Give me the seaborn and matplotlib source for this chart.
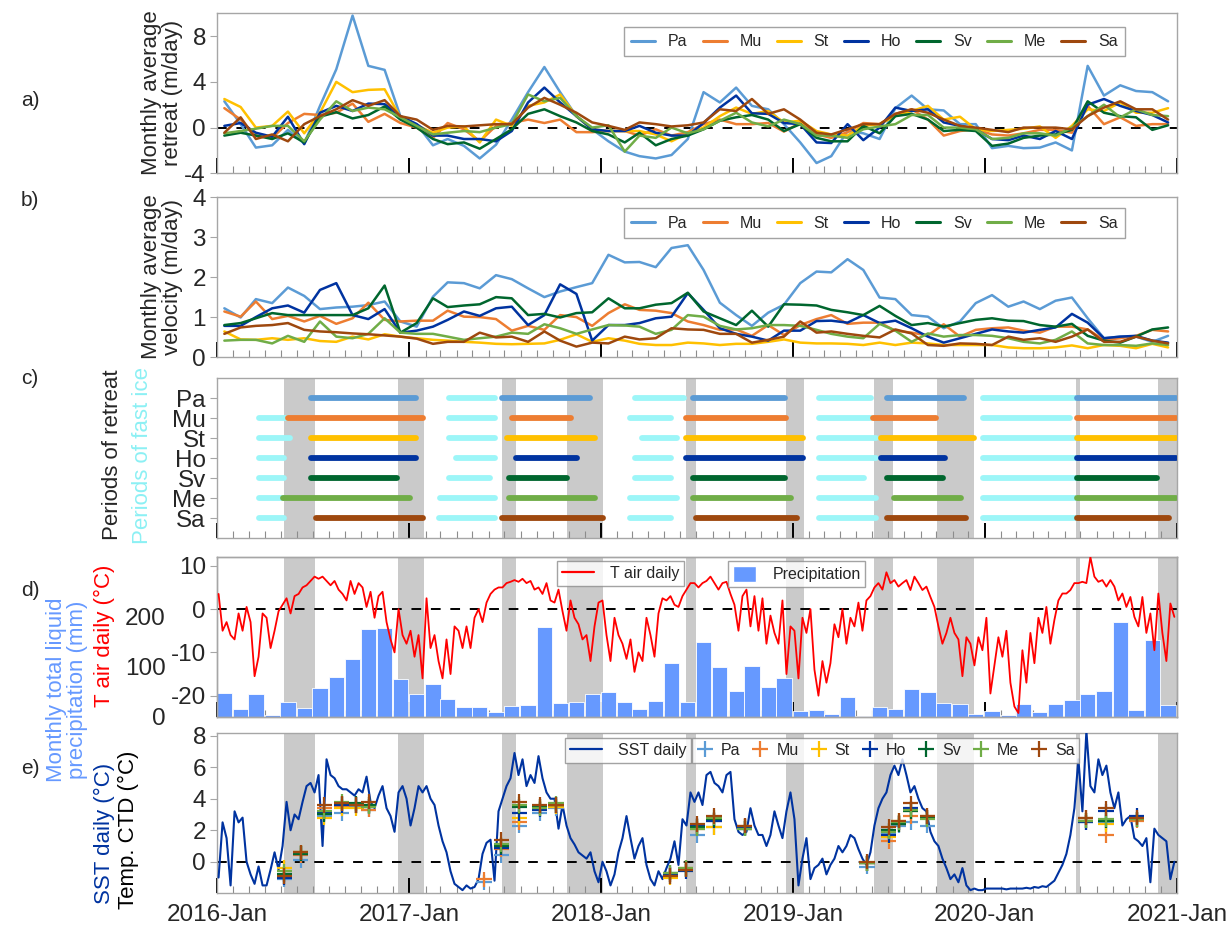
import numpy as np
import pandas as pd
import matplotlib
matplotlib.use('Agg')
import matplotlib.pyplot as plt
import matplotlib.dates as mdates
from matplotlib.lines import Line2D
from matplotlib.patches import Patch
import seaborn as sns

sns.set_theme(style='ticks')
plt.rcParams['font.family'] = ['Liberation Sans', 'DejaVu Sans']
plt.rcParams['axes.unicode_minus'] = False

# ---------------- data ----------------
glaciers = ['Pa', 'Mu', 'St', 'Ho', 'Sv', 'Me', 'Sa']
glacier_colors = ['#5B9BD5', '#ED7D31', '#FFC000', '#0033A0', '#00662E', '#70AD47', '#9E480E']
fast_ice_color = '#9CF6F8'

# monthly average retreat (m/day), Jan 2016 .. Dec 2020
ret_Pa = [2.3,0.3,-1.75,-1.55,-0.2,-1.4,1.9,5.1,9.8,5.4,5.05,1.0,0.3,-1.55,-1.0,-1.6,-2.7,-1.5,0.7,3.1,5.3,3.1,1.0,-0.15,-1.2,-2.1,-2.5,-2.7,-2.4,-1.0,
          3.1,2.2,3.5,1.9,1.6,0.3,-1.3,-3.1,-2.5,-0.3,-0.5,-1.0,1.7,2.8,1.6,1.5,0.3,0.3,-1.8,-1.6,-1.8,-1.75,-1.3,-2.0,5.4,2.8,3.7,3.2,3.1,2.3]
ret_Mu = [1.7,0.7,-0.7,-0.9,0.4,1.2,1.1,1.3,2.1,0.5,1.2,0.4,0,-0.9,0.4,-0.15,-1.2,0.15,0.4,0.7,0.4,0.7,-0.4,-0.4,-0.3,-0.3,-0.7,-0.15,-0.7,-0.4,
          0.3,0.7,0.3,0.3,0.4,-0.35,0.4,-0.6,-0.9,-0.4,0.4,0.3,1.2,1.6,0.7,-0.7,-0.3,-0.15,-0.6,-0.7,-0.5,-0.2,-0.2,-0.45,1.9,0.3,0.9,0.15,0.3,0.3]
ret_St = [2.5,1.8,0,0.15,1.4,-0.5,1.3,4.0,3.1,3.3,3.35,0.9,0.2,-0.45,0,0.1,-1.3,0.7,0.15,1.9,2.2,2.9,1.0,-0.15,-0.3,-0.3,-0.3,-0.6,-1.2,-0.5,
          0,1.0,1.75,1.2,1.45,0.45,0.6,-0.3,-0.6,-0.7,0.15,0.3,1.0,1.45,1.9,0.7,0.95,-0.15,-0.3,-0.2,-0.1,0.1,-0.9,0.15,1.6,1.45,2.2,1.3,1.3,1.7]
ret_Ho = [0.15,0.4,-0.45,-0.8,0.95,-1.45,1.3,1.9,1.45,2.1,2.05,1.0,0.3,-0.7,-0.7,-1.0,-1.0,-1.2,-0.3,2.2,3.5,2.2,1.0,-0.15,-0.3,-0.3,0.15,-0.45,-0.7,-0.7,
          0.4,1.75,2.8,1.25,1.2,0.4,0.3,-1.3,-1.35,0.3,-1.1,0,1.75,1.45,1.6,0.45,0.15,-0.15,-1.0,-1.1,-0.7,-1.0,-0.3,-1.0,2.0,2.5,1.9,1.45,1.1,0.45]
ret_Sv = [-0.7,-0.45,-0.7,-1.0,-0.5,-1.3,0.95,1.35,0.8,1.1,1.85,0.7,0,-1.0,-1.45,-1.3,-1.85,-1.0,-0.15,1.2,1.6,1.0,0.45,-0.3,-0.6,-1.3,-0.45,-1.55,-1.0,-0.7,
          -0.15,0.6,0.9,1.1,0.7,-0.3,0.3,-0.9,-1.2,-1.2,0.15,-0.5,1.0,1.2,0.7,-0.3,-0.2,-0.3,-1.6,-1.4,-0.9,-0.7,-0.6,-0.2,2.3,1.3,1.0,0.9,-0.2,0.2]
ret_Me = [-0.5,-0.3,-0.1,0.15,0.15,-1.2,0.7,2.3,1.45,1.75,1.6,0.9,0.15,-0.6,-0.45,-0.3,-0.4,0,0.3,2.9,2.3,2.6,1.0,0,0.2,-2.1,-0.7,-0.9,0,-0.5,
          -0.15,0.6,1.3,0.45,0.1,0.7,0.3,-0.7,-0.7,-0.9,-0.15,0.1,0.3,1.1,1.1,0,0,-0.15,-1.0,-0.9,-0.5,-0.5,-0.7,0,1.0,2.0,0.9,1.6,1.1,1.0]
ret_Sa = [-0.45,0.9,-1.0,-0.6,-1.2,0.3,1.0,1.6,2.4,1.9,2.4,1.0,0.7,-0.2,0.15,0.1,0.2,0.3,0.3,1.75,2.6,2.0,1.3,0.45,0.15,-0.2,0.45,0.3,0.1,0.2,
          0.45,1.6,1.45,2.5,1.2,1.6,0.7,-0.45,-0.6,-0.15,0.3,0.3,1.2,1.6,1.3,0.7,0.15,0,-0.2,-0.4,0,0,0,-0.15,1.0,1.75,2.3,1.6,1.6,0.7]

# monthly average velocity (m/day)
vel_Pa = [1.22,0.99,1.45,1.35,1.74,1.53,1.2,1.24,1.26,1.3,1.39,0.89,0.76,1.51,1.87,1.85,1.72,2.05,1.95,1.72,1.5,1.64,1.75,1.85,2.56,2.37,2.38,2.25,2.73,2.8,
          2.18,1.36,1.05,0.78,1.11,1.31,1.85,2.14,2.12,2.45,2.18,1.49,1.45,1.05,1.01,0.72,0.89,1.35,1.55,1.26,1.39,1.2,1.41,1.49,0.97,0.47,0.51,0.51,0.38,0.53]
vel_Mu = [1.14,1.01,1.39,0.95,1.03,0.89,1.03,0.83,0.97,1.36,0.93,0.89,0.91,0.91,1.16,1.01,1.0,0.95,0.66,0.78,0.68,1.05,1.0,0.78,1.1,1.32,1.18,1.16,1.1,0.89,
          0.8,0.68,0.69,0.53,0.8,0.55,0.8,0.95,1.05,0.83,0.86,0.86,0.66,0.61,0.54,0.82,0.51,0.68,0.72,0.74,0.66,0.61,0.76,0.76,0.69,0.43,0.47,0.53,0.68,0.64]
vel_St = [0.64,0.44,0.43,0.47,0.43,0.47,0.4,0.38,0.51,0.44,0.57,0.51,0.47,0.43,0.41,0.38,0.36,0.33,0.32,0.33,0.34,0.43,0.57,0.38,0.47,0.41,0.33,0.3,0.3,0.36,
          0.34,0.3,0.33,0.33,0.38,0.44,0.36,0.34,0.34,0.33,0.3,0.36,0.3,0.36,0.34,0.3,0.3,0.3,0.3,0.24,0.22,0.22,0.24,0.29,0.22,0.3,0.28,0.22,0.33,0.24]
vel_Ho = [0.78,0.78,1.0,1.22,1.29,1.11,1.68,1.85,1.05,0.95,1.2,0.61,0.66,0.76,0.93,1.14,1.03,1.22,1.26,0.8,1.05,1.82,1.58,0.41,0.8,0.8,0.85,0.97,1.01,1.6,
          1.18,0.72,0.58,0.51,0.41,0.66,0.66,0.9,0.91,0.86,1.05,0.85,0.91,0.72,0.51,0.36,0.47,0.58,0.69,0.64,0.61,0.68,0.74,1.08,0.86,0.47,0.51,0.53,0.41,0.36]
vel_Sv = [0.8,0.85,0.97,1.1,1.05,1.05,1.05,1.05,1.05,1.22,1.79,0.61,0.85,1.47,1.25,1.29,1.32,1.5,1.47,1.05,1.08,0.99,1.1,1.12,1.47,1.22,1.22,1.31,1.35,1.61,
          1.14,0.97,0.8,1.16,0.76,1.32,1.31,1.29,1.18,1.12,1.05,1.28,1.03,0.8,0.85,0.76,0.85,0.93,0.97,0.91,0.9,0.8,0.76,0.83,0.53,0.41,0.36,0.51,0.69,0.74]
vel_Me = [0.41,0.43,0.43,0.34,0.53,0.38,0.89,0.51,0.47,0.58,0.97,0.61,0.58,0.58,0.51,0.43,0.47,0.51,0.61,0.58,0.82,0.72,0.58,0.69,0.8,0.79,0.76,0.58,0.68,1.05,
          1.01,0.78,0.69,0.72,0.8,0.8,0.78,0.68,0.58,0.51,0.47,0.83,0.66,0.38,0.59,0.51,0.55,0.55,0.53,0.47,0.38,0.34,0.43,0.64,0.34,0.3,0.3,0.28,0.34,0.3]
vel_Sa = [0.58,0.74,0.78,0.8,0.85,0.68,0.64,0.62,0.59,0.57,0.54,0.51,0.46,0.33,0.38,0.38,0.61,0.49,0.51,0.38,0.64,0.41,0.26,0.36,0.34,0.51,0.44,0.47,0.72,0.69,
          0.68,0.58,0.58,0.36,0.43,0.51,0.89,0.61,0.64,0.58,0.53,0.49,0.69,0.59,0.3,0.28,0.34,0.33,0.3,0.51,0.43,0.47,0.38,0.51,0.69,0.38,0.38,0.51,0.41,0.34]

# periods (start, end) of retreat and of fast ice for each glacier
retreat_periods = {
    'Pa': [('2016-06-27','2017-01-14'),('2017-06-27','2017-12-10'),('2018-06-24','2018-12-17'),('2019-06-30','2019-11-23'),('2020-06-24','2020-12-31')],
    'Mu': [('2016-05-15','2017-01-27'),('2017-07-16','2017-11-04'),('2018-06-12','2018-12-19'),('2019-06-03','2019-09-30'),('2020-06-24','2020-12-31')],
    'St': [('2016-06-27','2017-01-14'),('2017-07-05','2017-12-21'),('2018-06-12','2019-01-21'),('2019-06-18','2019-12-12'),('2020-06-24','2020-12-31')],
    'Ho': [('2016-06-27','2017-01-14'),('2017-07-23','2017-11-16'),('2018-06-12','2019-01-21'),('2019-06-18','2019-10-18'),('2020-06-24','2020-12-31')],
    'Sv': [('2016-06-27','2016-12-09'),('2017-07-10','2017-10-28'),('2018-06-24','2018-12-17'),('2019-06-30','2019-10-13'),('2020-06-24','2020-11-24')],
    'Me': [('2016-05-05','2017-01-03'),('2017-07-10','2017-12-21'),('2018-06-24','2018-12-28'),('2019-07-12','2019-11-17'),('2020-06-24','2020-12-31')],
    'Sa': [('2016-07-07','2017-01-27'),('2017-06-27','2018-01-04'),('2018-06-30','2019-01-09'),('2019-06-30','2019-11-27'),('2020-06-24','2020-12-16')],
}
fast_ice_periods = {
    'Pa': [('2017-03-18','2017-06-13'),('2018-03-07','2018-06-07'),('2019-02-20','2019-05-29'),('2019-12-28','2020-06-23')],
    'Mu': [('2016-03-21','2016-05-13'),('2017-03-18','2017-06-13'),('2018-02-25','2018-05-14'),('2019-02-20','2019-05-29'),('2019-12-28','2020-06-12')],
    'St': [('2016-03-21','2016-05-19'),('2017-03-18','2017-06-13'),('2018-03-19','2018-05-26'),('2019-02-20','2019-06-08'),('2019-12-28','2020-06-23')],
    'Ho': [('2016-03-21','2016-05-07'),('2017-03-30','2017-06-13'),('2018-03-07','2018-05-14'),('2019-02-20','2019-06-08'),('2019-12-28','2020-06-23')],
    'Sv': [('2016-03-21','2016-05-07'),('2017-03-18','2017-06-03'),('2018-03-07','2018-05-14'),('2019-02-20','2019-05-17'),('2019-12-28','2020-06-23')],
    'Me': [('2016-03-21','2016-05-07'),('2017-02-28','2017-06-13'),('2018-02-25','2018-05-26'),('2019-02-20','2019-06-08'),('2019-12-28','2020-06-23')],
    'Sa': [('2016-03-21','2016-05-07'),('2017-02-26','2017-06-13'),('2018-02-25','2018-05-14'),('2019-02-20','2019-06-08'),('2019-12-28','2020-06-23')],
}
# grey shaded periods
grey_periods = [('2016-05-07','2016-07-05'),('2016-12-10','2017-01-28'),('2017-06-27','2017-07-23'),
                ('2017-10-29','2018-01-04'),('2018-06-12','2018-07-01'),('2018-12-18','2019-01-22'),
                ('2019-06-05','2019-07-11'),('2019-10-03','2019-12-12'),('2020-06-22','2020-07-01'),
                ('2020-11-26','2021-01-01')]

# monthly total liquid precipitation (mm)
precip = [47,15,45,3,30,17,57,80,115,175,178,75,45,65,35,20,19,10,21,23,
          180,27,29,45,49,29,15,32,107,30,149,99,51,101,59,77,12,13,5,40,
          1,19,15,55,49,27,25,5,11,3,25,10,25,33,46,51,190,14,153,23]

# air temperature (deg C), read about weekly (4 readings per month)
t_air = [3.5,-5,-3,-6, -7,-1,-5,0.5, -3,-15.5,-11,-1, -2,-9,-5,-0.5, 1,2.5,-1,3, 3.5,5,5.5,6.5,
         7.5,7,7.5,6.5, 5.5,6.5,4.5,3.5, 2,6.5,3.5,6, 5,0.5,4,-2, 3,4,-3,-7, -10,0,-6,-8,
         -5,-11,-6,-16, 2.5,-9,-6,-12, -16,-7,-15,-4, -5,-9,-4,-9, -2,0,-3,1.5, 3.5,4.5,5,5,
         6,6.3,6.7,6.3, 7,6,6.5,4.5, 5,3.5,6,2, 1.5,4.5,-0.5,-5, 2,-2,-3.5,-7, -6,-12,-4,1.5,
         2,-6,-12,-2, -6,-8,-11.5,-7, -14.5,-10,-12,-2, -6,-11,-1,2.5, 2,3,1,0.5, 3,4.5,6,6,
         5,6,6.5,7.5, 6,4.5,6,6.3, 3.5,1,-5,3, 4.5,-4,3,-5, 2.5,-8,-1.5,-5.5, -8,2,-15,-4,
         -5,-16,-2,-5.5, 0,-14,-20,-12, -17,-12.5,-3.5,-6.5, 0,-8,-2,-4, 1.5,-5,2,3, 5,6,4.5,8.5,
         6,6.7,5.2,6, 6.7,4.4,7.5,6, 4.4,5.2,2.8,0.5, -4,-8,-5.5,-2, -5.5,-7,-15.5,-6.5, -8,-13,-6.5,-9.5,
         -2,-19.5,-13,-6.5, -11,-5,-17,-22.5, -24,-9.5,-17,-5.5, -12.5,-2,-5.5,0.5, -8,-2.5,2,3.6, 3.6,4.4,6,6,
         6.3,6,12,7.5, 6.3,6.7,5.2,6.7, 5.2,2,3.6,0.5, 2.8,-1.8,-4,2.8, -5.5,-1,-9.5,3.6, -5.5,-12,1.3,-1.8]

# sea surface temperature (deg C), read about weekly
sst = [-1,2.5,1.5,-1.5, 3.2,2.5,2.8,0, -0.8,-1.4,-0.3,-1.5, -1.5,-0.5,0.6,-0.5, 1,3.8,2,3, 2.7,3.8,4.8,5,
       4.4,5.5,1,6.5, 5.5,5.3,4.8,4.6, 4.6,4.4,4.2,4.6, 4.4,5.4,3.8,3.4, 4.2,4.8,3.4,2.9, 1.9,4.4,4.8,4,
       2.3,3.4,4.8,4.4, 4.8,4,3.6,2.3, 1.3,0.6,-0.6,-1.4, -1.6,-1.8,-1.5,-1.7, -1.6,-1.1,0.5,1.2, 1.4,-1.2,3.2,4,
       4.8,5.3,6.9,5.5, 6.5,4.8,5.5,5, 6.7,5.3,4.4,4, 4,2.1,3.6,2.3, 1.5,1.1,0.6,0.4, 0.2,0.6,-0.6,-1.3,
       0,-0.6,-1.5,-0.8, 0.6,1.5,2.9,1.5, 0.2,1,1.5,-0.2, -1.1,-1.5,-0.6,-1.1, -0.4,0.2,1.3,-0.2, 2.7,2.3,4.4,3.8,
       4.4,3.6,5.5,5.7, 5,4.8,4.4,5.5, 5.7,2.7,1.9,1.7, 1.9,3.4,2.3,1.7, 1.7,1.0,1.7,3.2, 2.3,1.5,3.2,4.4,
       2.7,-1.5,0.2,1.5, -1.1,-0.4,-0.2,0.2, -0.8,-0.2,0.2,1.0, 0.6,1.0,1.7,1.5, 0.8,0.2,-0.2,0.6, 2.3,3.4,4,4.4,
       5.5,6.1,5.5,6.5, 5.5,4.4,4.8,4, 3.4,3.2,1.9,1.3, 1.0,0.2,-0.4,-1.1, -0.8,-1.3,-0.4,-1.5, -1.8,-1.7,-1.8,-1.8,
       -1.7,-1.7,-1.7,-1.7, -1.7,-1.75,-1.7,-1.7, -1.7,-1.7,-1.65,-1.7, -1.6,-1.65,-1.55,-1.6, -1.4,-1.2,-0.7,-0.2, 0.5,1.7,3.4,6.5,
       3.2,8.3,4.8,4.4, 6.5,5.5,6.1,4.4, 3.4,4.4,2.3,2.7, 2.9,1.5,1.3,1.0, 1.5,-1.3,2.1,1.7, 1.5,1.3,-1.1,0]

# CTD temperature (deg C) at the glacier fronts
ctd_dates = ['2016-05-08','2016-06-08','2016-07-23','2016-08-25','2016-09-22','2016-10-16',
             '2017-05-23','2017-06-25','2017-07-29','2017-09-06','2017-10-07',
             '2018-05-13','2018-06-11','2018-07-03','2018-08-04','2018-10-01',
             '2019-05-22','2019-07-02','2019-07-21','2019-08-13','2019-09-14',
             '2020-07-11','2020-08-19','2020-10-16']
ctd_Pa = [-1.1,0.1,2.9,3.1,3.5,3.3,-1.3,0.4,2.3,3.1,3.4,-0.9,-0.5,1.7,2.2,2.1,-0.3,1.8,2.3,2.5,2.3,2.5,2.5,2.7]
ctd_Mu = [-0.9,0.4,3.4,3.5,3.6,3.3,-1.1,0.8,2.5,3.5,3.5,-0.8,-0.4,2.1,2.6,2.3,-0.1,1.3,2.4,2.9,2.9,2.8,1.7,2.6]
ctd_St = [-0.4,0.6,2.8,3.4,3.4,3.6,None,1.0,2.8,3.4,3.5,-1.0,-0.5,2.2,2.2,2.2,-0.1,1.6,2.6,3.2,2.8,2.6,2.4,2.7]
ctd_Ho = [-1.0,0.5,3.1,3.6,3.6,3.5,None,0.9,3.1,3.3,3.6,-0.8,-0.6,2.3,2.6,2.2,-0.1,1.7,2.5,3.4,2.8,2.5,3.2,2.9]
ctd_Sv = [-0.8,0.5,3.0,3.7,3.7,3.6,None,1.0,3.5,3.5,3.6,-0.7,-0.5,2.2,2.7,2.1,-0.1,2.0,2.4,3.2,2.8,2.6,2.6,2.7]
ctd_Me = [-0.6,0.6,3.2,3.8,3.6,3.5,None,1.1,3.6,3.4,3.7,-0.7,-0.4,2.1,2.8,2.1,-0.1,1.9,2.5,3.3,2.7,2.6,2.7,2.7]
ctd_Sa = [-0.9,0.6,3.6,3.7,3.6,3.8,None,1.4,3.8,3.6,3.6,-0.9,-0.5,2.4,2.9,2.3,0.0,2.2,2.6,3.7,2.9,2.8,3.4,2.8]

# ---------------- tables ----------------
palette = dict(zip(glaciers, glacier_colors))
month_mid = pd.date_range('2016-01-01', periods=60, freq='MS') + pd.Timedelta(days=14)
ret_all = [ret_Pa, ret_Mu, ret_St, ret_Ho, ret_Sv, ret_Me, ret_Sa]
vel_all = [vel_Pa, vel_Mu, vel_St, vel_Ho, vel_Sv, vel_Me, vel_Sa]
ctd_all = [ctd_Pa, ctd_Mu, ctd_St, ctd_Ho, ctd_Sv, ctd_Me, ctd_Sa]
df_ret = pd.concat([pd.DataFrame({'date': month_mid, 'value': v, 'glacier': g}) for g, v in zip(glaciers, ret_all)])
df_vel = pd.concat([pd.DataFrame({'date': month_mid, 'value': v, 'glacier': g}) for g, v in zip(glaciers, vel_all)])
df_ctd = pd.concat([pd.DataFrame({'date': pd.to_datetime(ctd_dates),
                                  'temp': [np.nan if t is None else t for t in v], 'glacier': g})
                    for g, v in zip(glaciers, ctd_all)]).dropna()
obs_dates = pd.date_range('2016-01-04', '2020-12-27', periods=len(t_air))
df_t = pd.DataFrame({'date': obs_dates, 't': t_air, 'sst': sst})

# ---------------- figure ----------------
W, H = 1231, 947
fig = plt.figure(figsize=(W / 100, H / 100), dpi=100)
L, R = 217 / W, 1177 / W
def axes_at(top_px, bot_px):
    return fig.add_axes([L, 1 - bot_px / H, R - L, (bot_px - top_px) / H])

ax_a = axes_at(13.3, 173.3)
ax_b = axes_at(197.3, 357.0)
ax_c = axes_at(378.3, 538.3)
ax_d = axes_at(556.7, 716.7)
ax_e = axes_at(733.3, 893.3)

x0, x1 = pd.Timestamp('2016-01-01'), pd.Timestamp('2021-01-01')
TICK = 17.5
SPINE = '#A6A6A6'
LEGFS = 11.5

def style(ax, xlabels=False):
    ax.set_xlim(x0, x1)
    ax.xaxis.set_major_locator(mdates.YearLocator())
    ax.xaxis.set_minor_locator(mdates.MonthLocator())
    ax.xaxis.set_major_formatter(mdates.DateFormatter('%Y-%b'))
    ax.tick_params(axis='x', which='major', direction='in', length=11, width=1.4, color='black',
                   labelsize=TICK, pad=8, bottom=True, top=False, labelbottom=xlabels)
    ax.tick_params(axis='x', which='minor', direction='in', length=5, width=0.8, color='#8C8C8C',
                   bottom=True, top=False)
    ax.tick_params(axis='y', which='major', direction='out', length=5, width=0.8, color=SPINE,
                   labelsize=TICK, pad=3)
    for s in ax.spines.values():
        s.set_color(SPINE)
        s.set_linewidth(1.0)
        s.set_visible(True)
    ax.set_xlabel('')
    ax.set_ylabel('')

def shade(ax):
    for s, e in grey_periods:
        ax.axvspan(pd.Timestamp(s), pd.Timestamp(e), color='#CACACA', lw=0, zorder=0)

def zero_line(ax):
    ax.axhline(0, color='black', ls=(0, (5, 5)), lw=1.4, zorder=1.5)

def glacier_legend(ax, top):
    handles = [Line2D([0], [0], color=c, lw=2.2) for c in glacier_colors]
    leg = ax.legend(handles, glaciers, ncol=7, loc='upper left', bbox_to_anchor=(0.424, top),
                    fontsize=LEGFS, frameon=True, fancybox=False, edgecolor='#8C8C8C',
                    handlelength=1.5, handletextpad=0.8, columnspacing=0.95, borderpad=0.45,
                    borderaxespad=0)
    leg.get_frame().set_linewidth(1.0)
    leg.set_zorder(10)

# panel a: retreat
zero_line(ax_a)
sns.lineplot(data=df_ret, x='date', y='value', hue='glacier', hue_order=glaciers, palette=palette,
             lw=1.8, ax=ax_a, legend=False, zorder=3)
ax_a.set_ylim(-4, 10)
ax_a.set_yticks([-4, 0, 4, 8])
style(ax_a)
glacier_legend(ax_a, 0.914)

# panel b: velocity
sns.lineplot(data=df_vel, x='date', y='value', hue='glacier', hue_order=glaciers, palette=palette,
             lw=1.8, ax=ax_b, legend=False, zorder=3)
ax_b.set_ylim(0, 4)
ax_b.set_yticks([0, 1, 2, 3, 4])
style(ax_b)
glacier_legend(ax_b, 0.93)

# panel c: periods
shade(ax_c)
for i, g in enumerate(glaciers):
    y = 6 - i
    for s, e in fast_ice_periods[g]:
        ax_c.plot([pd.Timestamp(s), pd.Timestamp(e)], [y, y], color=fast_ice_color, lw=4.2,
                  solid_capstyle='round', zorder=2)
    for s, e in retreat_periods[g]:
        ax_c.plot([pd.Timestamp(s), pd.Timestamp(e)], [y, y], color=palette[g], lw=4.2,
                  solid_capstyle='round', zorder=3)
ax_c.set_ylim(-1, 7)
ax_c.set_yticks([6 - i for i in range(7)])
ax_c.set_yticklabels(glaciers)
style(ax_c)

# panel d: precipitation + air temperature
shade(ax_d)
ax_d.bar(month_mid, precip, width=29, color='#6699FF', edgecolor='white', lw=0.6, zorder=2)
ax_d.set_ylim(0, 320)
ax_d.set_yticks([0, 100, 200])
style(ax_d)
ax_d.tick_params(axis='y', length=0, pad=37)
ax_t = ax_d.twinx()
zero_line(ax_t)
sns.lineplot(data=df_t, x='date', y='t', color='#FF0000', lw=1.3, ax=ax_t, zorder=3)
ax_t.set_ylim(-24.85, 12.1)
ax_t.set_yticks([-20, -10, 0, 10])
ax_t.yaxis.tick_left()
ax_t.yaxis.set_label_position('left')
style(ax_t)
ax_t.tick_params(axis='x', which='both', bottom=False, labelbottom=False)
leg1 = ax_t.legend([Line2D([0], [0], color='#FF0000', lw=1.6)], ['T air daily'], loc='upper left',
                   bbox_to_anchor=(0.354, 0.973), fontsize=LEGFS, fancybox=False, edgecolor='#8C8C8C',
                   handlelength=2.0, handletextpad=1.0, borderpad=0.3, borderaxespad=0)
ax_t.add_artist(leg1)
ax_t.legend([Patch(facecolor='#6699FF')], ['Precipitation'], loc='upper left',
            bbox_to_anchor=(0.532, 0.973), fontsize=LEGFS, fancybox=False, edgecolor='#8C8C8C',
            handlelength=1.5, handleheight=1.2, handletextpad=1.0, borderpad=0.3, borderaxespad=0)

# panel e: SST + CTD
shade(ax_e)
zero_line(ax_e)
sns.lineplot(data=df_t, x='date', y='sst', color='#0033A0', lw=1.5, ax=ax_e, zorder=3)
sns.scatterplot(data=df_ctd, x='date', y='temp', hue='glacier', hue_order=glaciers, palette=palette,
                marker='+', s=120, linewidth=1.6, ax=ax_e, legend=False, zorder=4)
ax_e.set_ylim(-2, 8.15)
ax_e.set_yticks([0, 2, 4, 6, 8])
style(ax_e, xlabels=True)
leg_s = ax_e.legend([Line2D([0], [0], color='#0033A0', lw=1.6)], ['SST daily'], loc='upper left',
                    bbox_to_anchor=(0.3625, 0.97), fontsize=LEGFS, fancybox=False, edgecolor='#8C8C8C',
                    handlelength=2.0, handletextpad=1.0, borderpad=0.3, borderaxespad=0)
ax_e.add_artist(leg_s)
ax_e.legend([Line2D([0], [0], color=c, marker='+', ls='none', markersize=11, mew=1.6) for c in glacier_colors],
            glaciers, ncol=7, loc='upper left', bbox_to_anchor=(0.495, 0.97), fontsize=LEGFS,
            fancybox=False, edgecolor='#8C8C8C', handlelength=1.0, handletextpad=0.5,
            columnspacing=0.75, borderpad=0.3, borderaxespad=0)

# ---------------- labels ----------------
LAB = 16
def ftext(x, y, s, **kw):
    fig.text(x / W, 1 - y / H, s, **kw)

for lbl, y in [('a)', 100), ('b)', 200), ('c)', 378), ('d)', 590), ('e)', 768)]:
    ftext(30, y, lbl, fontsize=15, ha='center', va='center')

ftext(162, 93, 'Monthly average\nretreat (m/day)', rotation=90, fontsize=LAB, ha='center', va='center', linespacing=1.05)
ftext(162, 277, 'Monthly average\nvelocity (m/day)', rotation=90, fontsize=LAB, ha='center', va='center', linespacing=1.05)
ftext(113, 455, 'Periods of retreat', rotation=90, fontsize=LAB, ha='center', va='center')
ftext(143, 455, 'Periods of fast ice', rotation=90, fontsize=LAB, ha='center', va='center', color='#8CF0F4')
ftext(67, 690, 'Monthly total liquid\nprecipitation (mm)', rotation=90, fontsize=LAB, ha='center', va='center',
      color='#6699FF', linespacing=1.05)
ftext(104, 636, 'T air daily (°C)', rotation=90, fontsize=LAB, ha='center', va='center', color='#FF0000')
ftext(104, 833, 'SST daily (°C)', rotation=90, fontsize=LAB, ha='center', va='center', color='#0033A0')
ftext(128, 830, 'Temp. CTD (°C)', rotation=90, fontsize=LAB, ha='center', va='center', color='black')

fig.savefig('out.png', dpi=100)
